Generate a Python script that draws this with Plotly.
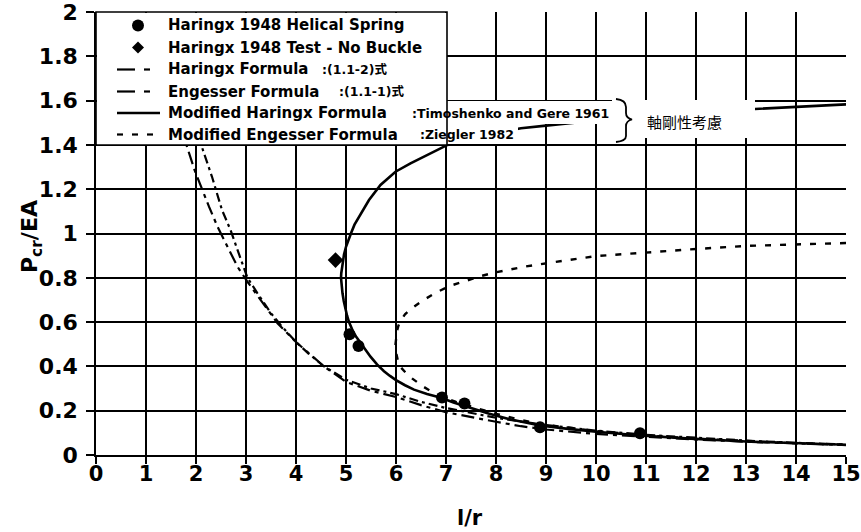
import plotly.graph_objects as go

# ---- data -------------------------------------------------------------
# Haringx (1948) helical spring buckling tests
spring_lr = [5.07, 5.25, 6.92, 7.37, 8.88, 10.88]
spring_p = [0.545, 0.492, 0.260, 0.233, 0.125, 0.098]

# Haringx (1948) test without buckling
nobuckle_lr = [4.79]
nobuckle_p = [0.880]

# Haringx formula, eq. (1.1-2)
haringx_lr = [1.70, 1.90, 2.00, 2.15, 2.32, 2.52, 2.69, 2.89, 3.03, 3.23, 3.50,
              3.70, 4.00, 4.25, 4.56, 5.00, 5.50, 6.00, 6.50, 7.00, 7.50, 8.00,
              9.00, 10.0, 11.0, 12.0, 13.0, 14.0, 15.0]
haringx_p = [1.70, 1.54, 1.47, 1.369, 1.256, 1.106, 1.016, 0.888, 0.800, 0.730,
             0.640, 0.585, 0.510, 0.458, 0.400, 0.340, 0.300, 0.275, 0.240,
             0.212, 0.190, 0.168, 0.135, 0.110, 0.091, 0.077, 0.065, 0.055, 0.047]

# Engesser formula, eq. (1.1-1)
engesser_lr = [1.40, 1.60, 1.82, 1.97, 2.10, 2.26, 2.43, 2.63, 2.83, 3.03, 3.30,
               3.63, 4.00, 4.19, 4.56, 5.00, 5.50, 6.00, 6.50, 7.00, 7.50, 8.00,
               8.50, 9.00, 10.0, 11.0, 12.0, 13.0, 14.0, 15.0]
engesser_p = [1.72, 1.56, 1.392, 1.287, 1.211, 1.121, 1.031, 0.940, 0.850, 0.782,
              0.700, 0.595, 0.510, 0.474, 0.400, 0.330, 0.290, 0.262, 0.225,
              0.193, 0.170, 0.150, 0.130, 0.115, 0.095, 0.081, 0.070, 0.060,
              0.052, 0.045]

# Modified Haringx formula (Timoshenko and Gere 1961): upper branch, nose, lower branch
mod_haringx_lr = [15.0, 14.0, 13.0, 12.0, 11.0, 10.0, 9.00, 8.50, 8.00, 7.50, 7.03,
                  6.62, 6.29, 5.99, 5.69, 5.46, 5.26, 5.17, 5.10, 5.04, 5.00, 4.96,
                  4.93, 4.915, 4.905, 4.90, 4.905, 4.915, 4.93, 4.955, 4.98, 5.02,
                  5.06, 5.10, 5.15, 5.20, 5.26, 5.37, 5.49, 5.62, 5.76, 5.88, 6.00,
                  6.18, 6.36, 6.62, 6.90, 7.15, 7.40, 7.85, 8.30, 8.88, 9.40, 10.0,
                  10.9, 11.8, 13.1, 14.0, 15.0]
mod_haringx_p = [1.583, 1.573, 1.560, 1.542, 1.527, 1.510, 1.487, 1.475, 1.455,
                 1.430, 1.400, 1.354, 1.317, 1.279, 1.219, 1.151, 1.076, 1.040,
                 1.001, 0.968, 0.940, 0.905, 0.865, 0.840, 0.820, 0.800, 0.780,
                 0.755, 0.730, 0.695, 0.665, 0.630, 0.600, 0.575, 0.553, 0.535,
                 0.515, 0.478, 0.444, 0.409, 0.378, 0.357, 0.338, 0.315, 0.295,
                 0.275, 0.258, 0.237, 0.219, 0.187, 0.160, 0.133, 0.119, 0.105,
                 0.088, 0.075, 0.060, 0.053, 0.046]

# Modified Engesser formula (Ziegler 1982): upper branch, nose, lower branch
mod_engesser_lr = [15.0, 14.0, 13.0, 12.0, 11.0, 10.0, 9.17, 8.56, 8.00, 7.70, 7.37,
                   7.07, 6.80, 6.53, 6.29, 6.18, 6.10, 6.05, 6.02, 6.00, 5.99, 6.00,
                   6.02, 6.05, 6.09, 6.20, 6.32, 6.55, 6.82, 7.20, 7.60, 8.00, 8.50,
                   9.00, 10.0, 11.0, 12.0, 13.0, 14.0, 15.0]
mod_engesser_p = [0.957, 0.949, 0.944, 0.930, 0.914, 0.898, 0.871, 0.850, 0.825,
                  0.808, 0.784, 0.763, 0.733, 0.697, 0.658, 0.635, 0.609, 0.585,
                  0.560, 0.530, 0.500, 0.465, 0.435, 0.412, 0.397, 0.370, 0.346,
                  0.308, 0.272, 0.240, 0.212, 0.186, 0.158, 0.136, 0.108, 0.088,
                  0.074, 0.062, 0.053, 0.046]

x_ticks = list(range(0, 16))
y_ticks = [0, 0.2, 0.4, 0.6, 0.8, 1.0, 1.2, 1.4, 1.6, 1.8, 2.0]
y_tick_text = ["0", "0.2", "0.4", "0.6", "0.8", "1", "1.2", "1.4", "1.6", "1.8", "2"]

x_title = "l/r"
y_title = "P<sub>cr</sub>/EA"

legend_names = ["Haringx 1948 Helical Spring", "Haringx 1948 Test - No Buckle",
                "Haringx Formula", "Engesser Formula", "Modified Haringx Formula",
                "Modified Engesser Formula"]
legend_notes = ["", "", ":(1.1-2)式", ":(1.1-1)式", ":Timoshenko and Gere 1961",
                ":Ziegler 1982"]
side_note = "軸剛性考慮"

# ---- page geometry ----------------------------------------------------
W, H = 861, 532
PL, PR, PT, PB = 96, 846, 12, 455  # plot area in page pixels

def fx(px):
    return (px - PL) / (PR - PL)

def fy(py):
    return (PB - py) / (PB - PT)

FONT = "DejaVu Sans, Liberation Sans, Arial, sans-serif"
CJK = "DejaVu Sans, Noto Sans CJK JP, sans-serif"

DASH_H = "9px,4px,3px,4px"
DASH_E = "13px,5px,4px,5px"
DOT_M = "6px,9px"

fig = go.Figure()

fig.add_trace(go.Scatter(x=haringx_lr, y=haringx_p, mode="lines",
                         line=dict(color="black", width=2.2, dash=DASH_H),
                         name=legend_names[2], showlegend=False))
fig.add_trace(go.Scatter(x=engesser_lr, y=engesser_p, mode="lines",
                         line=dict(color="black", width=2.2, dash=DASH_E),
                         name=legend_names[3], showlegend=False))
fig.add_trace(go.Scatter(x=mod_engesser_lr, y=mod_engesser_p, mode="lines",
                         line=dict(color="black", width=2.4, dash=DOT_M),
                         name=legend_names[5], showlegend=False))
fig.add_trace(go.Scatter(x=mod_haringx_lr, y=mod_haringx_p, mode="lines",
                         line=dict(color="black", width=2.6),
                         name=legend_names[4], showlegend=False))
fig.add_trace(go.Scatter(x=spring_lr, y=spring_p, mode="markers",
                         marker=dict(color="black", size=12, symbol="circle"),
                         name=legend_names[0], showlegend=False))
fig.add_trace(go.Scatter(x=nobuckle_lr, y=nobuckle_p, mode="markers",
                         marker=dict(color="black", size=12, symbol="diamond"),
                         name=legend_names[1], showlegend=False))

shapes = []

def white_box(x0, y0, x1, y1):
    shapes.append(dict(type="rect", xref="paper", yref="paper", layer="above",
                       x0=fx(x0), x1=fx(x1), y0=fy(y1), y1=fy(y0),
                       fillcolor="white", line=dict(width=0)))

# legend panel and label backgrounds
white_box(PL + 1, PT + 1, 447, 145)
white_box(398, 101, 615, 124)
white_box(400, 124, 518, 144)
white_box(612, 100, 755, 138)
shapes.append(dict(type="rect", xref="paper", yref="paper", layer="above",
                   x0=fx(PL), x1=fx(447), y0=fy(145), y1=fy(PT),
                   line=dict(color="black", width=1.6)))

row_y = [25.5, 47.5, 69.5, 91.5, 113.0, 134.5]
text_x = 166
sample_cx = 138

# legend symbols
shapes.append(dict(type="circle", xref="paper", yref="paper", layer="above",
                   x0=fx(sample_cx - 6), x1=fx(sample_cx + 6),
                   y0=fy(row_y[0] + 6), y1=fy(row_y[0] - 6),
                   fillcolor="black", line=dict(width=0)))
dy = row_y[1]
shapes.append(dict(type="path", xref="paper", yref="paper", layer="above",
                   path=(f"M{fx(sample_cx)},{fy(dy - 6)} L{fx(sample_cx + 6)},{fy(dy)} "
                         f"L{fx(sample_cx)},{fy(dy + 6)} L{fx(sample_cx - 6)},{fy(dy)} Z"),
                   fillcolor="black", line=dict(width=0)))

def seg(x0, x1, y, w=2.2):
    shapes.append(dict(type="line", xref="paper", yref="paper", layer="above",
                       x0=fx(x0), x1=fx(x1), y0=fy(y), y1=fy(y),
                       line=dict(color="black", width=w)))

for r in (2, 3):
    seg(117, 135, row_y[r])
    seg(144, 150, row_y[r])
seg(117, 160, row_y[4], 2.4)
for a in (117, 132, 147):
    seg(a, a + 6, row_y[5])

# brace beside the modified formulas
bp = [(616, 99), (626, 100), (626, 107), (626, 113), (626, 118), (632, 119.5),
      (626, 121), (626, 126), (626, 136), (626, 141), (616, 142)]
P = [(fx(a), fy(b)) for a, b in bp]
brace = (f"M{P[0][0]},{P[0][1]} Q{P[1][0]},{P[1][1]} {P[2][0]},{P[2][1]} "
         f"L{P[3][0]},{P[3][1]} Q{P[4][0]},{P[4][1]} {P[5][0]},{P[5][1]} "
         f"Q{P[6][0]},{P[6][1]} {P[7][0]},{P[7][1]} "
         f"L{P[8][0]},{P[8][1]} Q{P[9][0]},{P[9][1]} {P[10][0]},{P[10][1]}")
shapes.append(dict(type="path", xref="paper", yref="paper", layer="above",
                   path=brace, line=dict(color="black", width=1.8)))

annotations = []
note_x = [None, None, 320, 337, 410, 418]
for i, name in enumerate(legend_names):
    annotations.append(dict(x=fx(text_x), y=fy(row_y[i]), xref="paper", yref="paper",
                            text=f"<b>{name}</b>", showarrow=False,
                            xanchor="left", yanchor="middle",
                            font=dict(family=FONT, size=15, color="black")))
    if legend_notes[i]:
        annotations.append(dict(x=fx(note_x[i]), y=fy(row_y[i]), xref="paper", yref="paper",
                                text=f"<b>{legend_notes[i]}</b>", showarrow=False,
                                xanchor="left", yanchor="middle",
                                font=dict(family=CJK, size=12.5, color="black")))
annotations.append(dict(x=fx(645), y=fy(121), xref="paper", yref="paper",
                        text=side_note, showarrow=False, xanchor="left",
                        yanchor="middle",
                        font=dict(family="Noto Sans CJK JP", size=15, color="black")))

# axis titles
annotations.append(dict(x=fx(31), y=fy(237), xref="paper", yref="paper",
                        text=f"<b>{y_title}</b>", showarrow=False, textangle=-90,
                        xanchor="center", yanchor="middle",
                        font=dict(family=FONT, size=22, color="black")))
annotations.append(dict(x=fx(470), y=fy(518), xref="paper", yref="paper",
                        text=f"<b>{x_title}</b>", showarrow=False,
                        xanchor="center", yanchor="middle",
                        font=dict(family=FONT, size=21, color="black")))

axis_common = dict(showgrid=True, gridcolor="black", gridwidth=1.5, showline=True,
                   linecolor="black", linewidth=1.5, ticks="outside",
                   tickwidth=1.5, tickcolor="black", zeroline=False, automargin=False,
                   ticklabeloverflow="allow")

fig.update_layout(
    width=W, height=H,
    margin=dict(l=PL, r=W - PR, t=PT, b=H - PB, autoexpand=False),
    paper_bgcolor="white", plot_bgcolor="white",
    showlegend=False,
    xaxis=dict(range=[0, 15], tickvals=x_ticks, **axis_common, ticklen=7,
               ticklabelstandoff=-8,
               tickfont=dict(family=FONT, size=21, color="black", weight="bold")),
    yaxis=dict(range=[0, 2], tickvals=y_ticks, ticktext=y_tick_text, **axis_common,
               ticklen=8, ticklabelstandoff=4,
               tickfont=dict(family=FONT, size=22, color="black", weight="bold")),
    shapes=shapes,
    annotations=annotations,
)

fig.write_html("out.html")
